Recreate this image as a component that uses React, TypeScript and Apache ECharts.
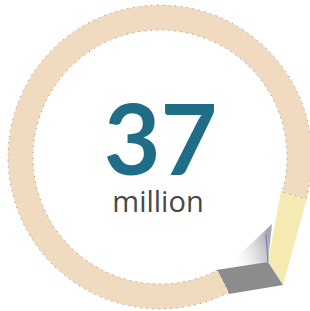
import React, { useEffect, useRef } from "react";
import * as echarts from "echarts";

// Ring segments (degrees of the circle): the visible ring and the folded corner
const segmentNames = ["ring", "fold"];
const segmentValues = [313, 47];
const segmentColors = ["#F0DBC0", "rgba(0,0,0,0)"];

const headline = "37";
const unitLabel = "million";

export default function App() {
  const ref = useRef<HTMLDivElement>(null);

  useEffect(() => {
    if (!ref.current) return;
    const chart = echarts.init(ref.current, null, { renderer: "svg" });
    const cx = 160;
    const cy = 157;
    chart.setOption({
      animation: false,
      backgroundColor: "#ffffff",
      series: [
        {
          type: "pie",
          center: [cx, cy],
          radius: [127, 152],
          startAngle: -63,
          clockwise: true,
          silent: true,
          label: { show: false },
          labelLine: { show: false },
          data: segmentNames.map((n, i) => ({
            name: n,
            value: segmentValues[i],
            itemStyle: {
              color: segmentColors[i],
              borderColor: i === 0 ? "#8a877f" : "rgba(0,0,0,0)",
              borderWidth: i === 0 ? 1 : 0,
              borderType: [1, 5],
            },
          })),
        },
      ],
      graphic: [
        {
          type: "polygon",
          silent: true,
          shape: { points: [[222, 271], [268, 262], [272, 224]] },
          style: {
            fill: new echarts.graphic.LinearGradient(1, 0.4, 0.1, 0.7, [
              { offset: 0, color: "rgba(125,128,140,0.7)" },
              { offset: 1, color: "rgba(255,255,255,0)" },
            ]),
          },
        },
        {
          type: "polygon",
          silent: true,
          shape: { points: [[281, 191], [309, 191], [283, 285], [268, 262]] },
          style: { fill: "#F5EAB2" },
        },
        {
          type: "polygon",
          silent: true,
          shape: { points: [[216, 270], [268, 262], [283, 285], [229, 294]] },
          style: { fill: "#8B8C8D" },
        },
        {
          type: "line",
          silent: true,
          shape: { x1: 266, y1: 234, x2: 268, y2: 262 },
          style: { stroke: "#7d84a8", lineWidth: 1.2 },
        },
        {
          type: "text",
          silent: true,
          style: {
            x: 160.5,
            y: 137,
            align: "center",
            verticalAlign: "middle",
            lineHeight: 76,
            text: headline,
            font: "bold 98px Lato",
            fill: "#1F6D86",
          },
        },
        {
          type: "text",
          silent: true,
          style: {
            x: 158,
            y: 200,
            align: "center",
            verticalAlign: "middle",
            lineHeight: 24,
            text: unitLabel,
            font: "400 29px 'Open Sans'",
            fill: "#484848",
          },
        },
      ],
    });
    return () => chart.dispose();
  }, []);

  return (
    <div
      ref={ref}
      style={{ position: "fixed", left: 0, top: 0, width: 310, height: 311 }}
    />
  );
}
